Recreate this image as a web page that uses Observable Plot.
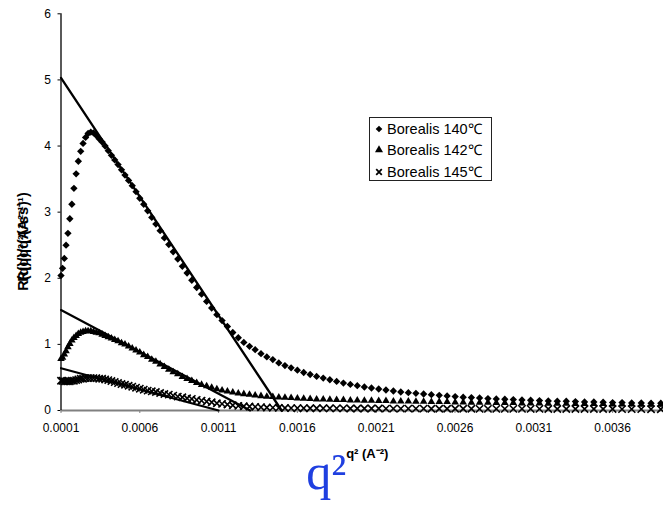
<!DOCTYPE html>
<html><head><meta charset="utf-8">
<script src="https://cdn.jsdelivr.net/npm/d3@7"></script>
<script src="https://cdn.jsdelivr.net/npm/@observablehq/plot@0.6"></script>
<style>
body{margin:0;background:#fff;}
#wrap{position:relative;width:663px;height:516px;overflow:hidden;font-family:"Liberation Sans",Arial,sans-serif;}
#legend{position:absolute;left:369px;top:117px;width:121px;height:62px;border:1px solid #222;background:#fff;}
.row{position:absolute;left:0;height:18px;line-height:18px;font-size:14.5px;white-space:nowrap;color:#000;}
.row svg{position:absolute;left:4px;top:4px;}
.row span{position:absolute;left:17px;top:0;}
</style>
</head><body><div id="wrap"></div>
<script>
// ---- data ----
const seriesNames = ["Borealis 140℃", "Borealis 142℃", "Borealis 145℃"];
const xTicks = [0.0001, 0.0006, 0.0011, 0.0016, 0.0021, 0.0026, 0.0031, 0.0036];
const yTicks = [0, 1, 2, 3, 4, 5, 6];
const xDomain = [0.0001, 0.003923];

const q2 = [0.000100,0.000110,0.000121,0.000132,0.000144,0.000156,0.000169,0.000182,0.000196,0.000210,
0.000225,0.000240,0.000256,0.000272,0.000289,0.000306,0.000324,0.000342,0.000361,0.000380,
0.000400,0.000420,0.000441,0.000462,0.000484,0.000506,0.000529,0.000552,0.000576,0.000600,
0.000625,0.000650,0.000676,0.000702,0.000729,0.000756,0.000784,0.000812,0.000841,0.000870,
0.000900,0.000930,0.000961,0.000992,0.001024,0.001056,0.001089,0.001122,0.001156,0.001190,
0.001225,0.001260,0.001296,0.001332,0.001369,0.001406,0.001444,0.001482,0.001521,0.001560,
0.001600,0.001640,0.001681,0.001722,0.001764,0.001806,0.001849,0.001892,0.001936,0.001980,
0.002025,0.002070,0.002116,0.002162,0.002209,0.002256,0.002304,0.002352,0.002401,0.002450,
0.002500,0.002550,0.002601,0.002652,0.002704,0.002756,0.002809,0.002862,0.002916,0.002970,
0.003025,0.003080,0.003136,0.003192,0.003249,0.003306,0.003364,0.003422,0.003481,0.003540,
0.003600,0.003660,0.003721,0.003782,0.003844,0.003906];

const y140 = [2.04,2.15,2.30,2.50,2.68,2.90,3.12,3.36,3.58,3.77,
3.92,4.04,4.13,4.19,4.21,4.20,4.16,4.11,4.06,4.00,
3.93,3.86,3.79,3.72,3.64,3.56,3.48,3.40,3.31,3.21,
3.12,3.02,2.92,2.82,2.72,2.61,2.51,2.40,2.29,2.18,
2.08,1.97,1.86,1.76,1.65,1.55,1.45,1.36,1.27,1.18,
1.10,1.03,0.97,0.92,0.86,0.81,0.77,0.72,0.68,0.645,
0.61,0.575,0.545,0.515,0.49,0.465,0.44,0.415,0.395,0.375,
0.355,0.34,0.325,0.31,0.295,0.28,0.27,0.26,0.25,0.24,
0.23,0.22,0.21,0.20,0.195,0.19,0.18,0.175,0.17,0.165,
0.16,0.155,0.15,0.145,0.14,0.14,0.135,0.13,0.13,0.125,
0.12,0.12,0.115,0.115,0.11,0.11];

const y142 = [0.78,0.80,0.85,0.90,0.96,1.01,1.06,1.10,1.13,1.16,
1.18,1.19,1.20,1.20,1.20,1.19,1.18,1.17,1.15,1.13,
1.11,1.09,1.07,1.05,1.02,1.00,0.97,0.94,0.91,0.88,
0.84,0.81,0.77,0.74,0.70,0.66,0.62,0.58,0.55,0.51,
0.48,0.45,0.42,0.39,0.37,0.345,0.325,0.305,0.29,0.275,
0.26,0.25,0.24,0.23,0.22,0.21,0.205,0.20,0.195,0.19,
0.185,0.18,0.175,0.17,0.17,0.165,0.16,0.16,0.155,0.155,
0.15,0.15,0.145,0.145,0.14,0.14,0.14,0.135,0.135,0.13,
0.13,0.13,0.125,0.125,0.12,0.12,0.12,0.115,0.115,0.115,
0.11,0.11,0.11,0.105,0.105,0.105,0.10,0.10,0.10,0.10,
0.095,0.095,0.095,0.09,0.09,0.09];

const y145 = [0.45,0.45,0.44,0.44,0.44,0.44,0.45,0.45,0.46,0.47,
0.48,0.48,0.49,0.49,0.49,0.49,0.49,0.48,0.48,0.47,
0.46,0.445,0.43,0.415,0.40,0.39,0.375,0.36,0.345,0.33,
0.315,0.30,0.29,0.28,0.265,0.25,0.24,0.225,0.21,0.20,
0.185,0.175,0.16,0.15,0.135,0.125,0.11,0.10,0.09,0.08,
0.07,0.065,0.06,0.055,0.05,0.045,0.043,0.04,0.038,0.036,
0.035,0.035,0.034,0.034,0.033,0.033,0.032,0.032,0.031,0.031,
0.03,0.03,0.03,0.029,0.029,0.029,0.028,0.028,0.028,0.027,
0.027,0.027,0.026,0.026,0.026,0.025,0.025,0.025,0.025,0.024,
0.024,0.024,0.024,0.023,0.023,0.023,0.023,0.022,0.022,0.022,
0.022,0.021,0.021,0.021,0.02,0.02];

// linear fits (trend lines)
const fitX140 = [0.0001, 0.0015],  fitY140 = [5.03, 0];
const fitX142 = [0.0001, 0.00130], fitY142 = [1.52, 0];
const fitX145 = [0.0001, 0.00110], fitY145 = [0.64, 0];

const yTitle = "R(q)/q²(A²s⁻¹)";
const xTitle = "q² (A⁻²)";
const bigCaption = "q²";

// ---- build tables ----
const toRows = (xs, ys) => xs.map((x, i) => ({x, y: ys[i]}));
const d140 = toRows(q2, y140), d142 = toRows(q2, y142), d145 = toRows(q2, y145);
const f140 = toRows(fitX140, fitY140), f142 = toRows(fitX142, fitY142), f145 = toRows(fitX145, fitY145);

const plot = Plot.plot({
  width: 663, height: 516,
  marginLeft: 60.5, marginRight: 0, marginTop: 13.3, marginBottom: 106,
  style: {fontFamily: "'Liberation Sans', Arial, sans-serif", fontSize: "12px", color: "black", background: "white", overflow: "visible"},
  x: {domain: xDomain},
  y: {domain: [0, 6]},
  marks: [
    Plot.axisY({ticks: yTicks, tickSize: 3, tickPadding: 7, label: null, fontSize: 12, tickFormat: d => String(d)}),
    Plot.axisX({ticks: xTicks, tickSize: 3, tickPadding: 10, label: null, stroke: "#808080", fill: "black", fontSize: 12, tickFormat: d => d.toFixed(4)}),
    Plot.ruleY([0], {stroke: "#808080", strokeWidth: 2}),
    Plot.ruleX([xDomain[0]], {stroke: "black", strokeWidth: 1.3}),
    Plot.dot(d140, {x: "x", y: "y", symbol: "diamond2", fill: "black", r: 3.3}),
    Plot.dot(d142, {x: "x", y: "y", symbol: "triangle", fill: "black", r: 2.8}),
    Plot.dot(d145, {x: "x", y: "y", symbol: "times", stroke: "black", strokeWidth: 1.6, r: 3.4}),
    Plot.line(f140, {x: "x", y: "y", stroke: "black", strokeWidth: 2.3}),
    Plot.line(f142, {x: "x", y: "y", stroke: "black", strokeWidth: 2.1}),
    Plot.line(f145, {x: "x", y: "y", stroke: "black", strokeWidth: 2.1}),
    Plot.text([xTitle], {frameAnchor: "bottom", dx: 5, dy: 47, fontWeight: "bold", fontSize: 13, fill: "black"}),
    Plot.text([bigCaption], {frameAnchor: "bottom", dx: -36, dy: 78, fontFamily: "'Liberation Serif', 'Times New Roman', serif", fontSize: 50, fill: "#1f3fe0"})
  ]
});
const wrap = document.getElementById("wrap");
wrap.appendChild(plot);

// ---- y-axis title (doubled, as in the reference) ----
const svg = d3.select(plot.tagName.toLowerCase() === "svg" ? plot : plot.querySelector("svg"));
[0, -9].forEach(off => {
  svg.append("text")
    .attr("transform", `translate(28,${246 + off}) rotate(-90)`)
    .attr("text-anchor", "middle")
    .attr("font-family", "'Liberation Sans', Arial, sans-serif")
    .attr("font-weight", "bold")
    .attr("font-size", 14.5)
    .attr("fill", "black")
    .text(yTitle);
});

// ---- legend ----
const legendSymbols = [
  {sym: d3.symbolDiamond2, size: 28, fill: "black", stroke: "none", sw: 0},
  {sym: d3.symbolTriangle, size: 28, fill: "black", stroke: "none", sw: 0},
  {sym: d3.symbolTimes, size: 22, fill: "none", stroke: "black", sw: 1.8}
];
const legend = document.createElement("div");
legend.id = "legend";
const rowCenters = [11.3, 32.3, 54];
seriesNames.forEach((name, i) => {
  const row = document.createElement("div");
  row.className = "row";
  row.style.top = (rowCenters[i] - 9) + "px";
  const s = legendSymbols[i];
  const path = d3.symbol(s.sym, s.size)();
  row.innerHTML = `<svg width="10" height="10" viewBox="-5 -5 10 10"><path d="${path}" fill="${s.fill}" stroke="${s.stroke}" stroke-width="${s.sw}"/></svg><span>${name}</span>`;
  legend.appendChild(row);
});
wrap.appendChild(legend);
</script></body></html>
